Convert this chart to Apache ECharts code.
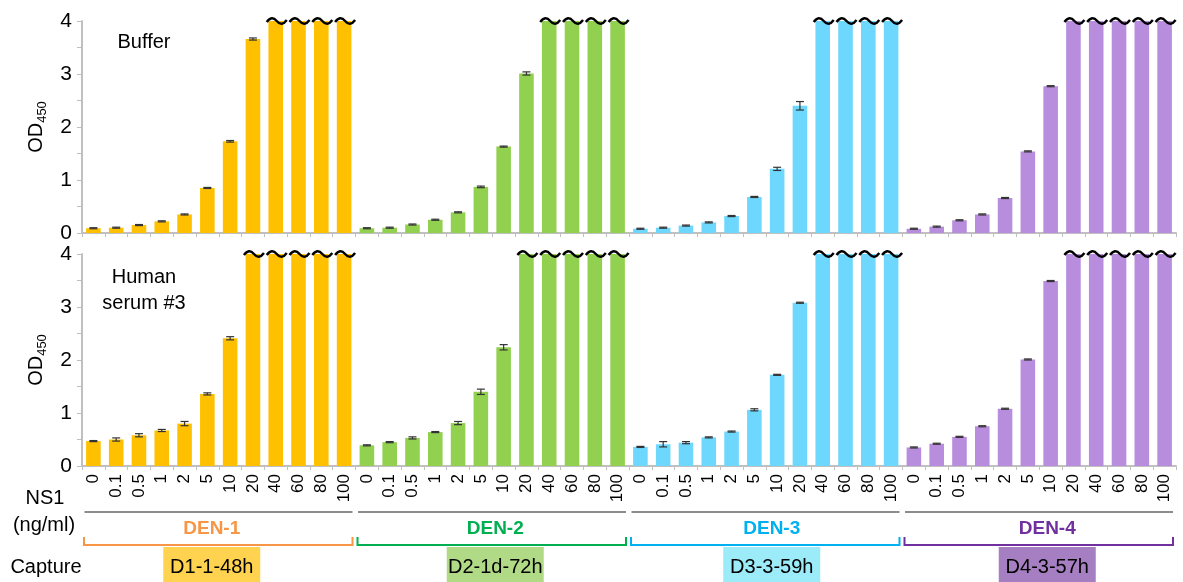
<!DOCTYPE html>
<html>
<head>
<meta charset="utf-8">
<script src="https://cdn.jsdelivr.net/npm/echarts@6/dist/echarts.min.js"></script>
<style>
  html, body { margin: 0; padding: 0; background: #fff; }
  #chart { width: 1183px; height: 582px; }
</style>
</head>
<body>
<div id="chart"></div>
<script>
// NS1 concentrations (ng/ml), repeated for each serotype block
const doses = ['0', '0.1', '0.5', '1', '2', '5', '10', '20', '40', '60', '80', '100'];
const serotypes = ['DEN-1', 'DEN-2', 'DEN-3', 'DEN-4'];
const captures = ['D1-1-48h', 'D2-1d-72h', 'D3-3-59h', 'D4-3-57h'];

// OD450 in buffer (4 = reading above the plate reader limit)
const bufferDen1 = [0.09, 0.10, 0.15, 0.22, 0.35, 0.85, 1.73, 3.66, 4, 4, 4, 4];
const bufferDen2 = [0.09, 0.10, 0.16, 0.25, 0.39, 0.87, 1.63, 3.01, 4, 4, 4, 4];
const bufferDen3 = [0.08, 0.10, 0.14, 0.20, 0.32, 0.68, 1.21, 2.40, 4, 4, 4, 4];
const bufferDen4 = [0.08, 0.12, 0.24, 0.35, 0.66, 1.54, 2.77, 4, 4, 4, 4, 4];

// OD450 in human serum #3
const serumDen1 = [0.47, 0.50, 0.58, 0.67, 0.80, 1.36, 2.41, 4, 4, 4, 4, 4];
const serumDen2 = [0.39, 0.45, 0.53, 0.64, 0.81, 1.40, 2.24, 4, 4, 4, 4, 4];
const serumDen3 = [0.36, 0.41, 0.44, 0.54, 0.65, 1.06, 1.72, 3.08, 4, 4, 4, 4];
const serumDen4 = [0.35, 0.42, 0.55, 0.75, 1.08, 2.01, 3.49, 4, 4, 4, 4, 4];

// standard deviations
const bufferErr1 = [0.01, 0.01, 0.01, 0.01, 0.01, 0.01, 0.015, 0.02, 0, 0, 0, 0];
const bufferErr2 = [0.01, 0.01, 0.01, 0.01, 0.01, 0.015, 0.01, 0.03, 0, 0, 0, 0];
const bufferErr3 = [0.01, 0.01, 0.01, 0.01, 0.01, 0.01, 0.03, 0.08, 0, 0, 0, 0];
const bufferErr4 = [0.01, 0.01, 0.01, 0.01, 0.01, 0.01, 0.01, 0, 0, 0, 0, 0];
const serumErr1 = [0.01, 0.03, 0.03, 0.02, 0.04, 0.02, 0.03, 0, 0, 0, 0, 0];
const serumErr2 = [0.01, 0.01, 0.02, 0.01, 0.03, 0.05, 0.05, 0, 0, 0, 0, 0];
const serumErr3 = [0.01, 0.05, 0.02, 0.01, 0.01, 0.02, 0.01, 0.01, 0, 0, 0, 0];
const serumErr4 = [0.01, 0.01, 0.01, 0.01, 0.01, 0.01, 0.01, 0, 0, 0, 0, 0];

const yTicks = [0, 1, 2, 3, 4];

const barColors = ['#ffc000', '#92d050', '#6dd7fd', '#b98ddd'];
const labelColors = ['#f79646', '#00b050', '#00b0f0', '#7030a0'];
const boxColors = ['#ffd34f', '#b1da86', '#9cebf9', '#a67fc3'];
const FONT = '"Liberation Sans", Arial, sans-serif';
const CAP = 4;

const panels = [
  { title: ['Buffer'], values: [bufferDen1, bufferDen2, bufferDen3, bufferDen4], errs: [bufferErr1, bufferErr2, bufferErr3, bufferErr4] },
  { title: ['Human', 'serum #3'], values: [serumDen1, serumDen2, serumDen3, serumDen4], errs: [serumErr1, serumErr2, serumErr3, serumErr4] }
];

const categories = [];
serotypes.forEach(() => doses.forEach(d => categories.push(d)));

const chart = echarts.init(document.getElementById('chart'), null, { renderer: 'canvas' });

const grids = [
  { left: 82, right: 7, top: 21, height: 212 },
  { left: 82, right: 7, top: 254, height: 212 }
];

const xAxes = grids.map((g, i) => ({
  type: 'category',
  gridIndex: i,
  data: categories,
  boundaryGap: true,
  axisLine: { lineStyle: { color: '#c0c0c0', width: 2 } },
  axisTick: { show: true, length: 4, interval: 0, lineStyle: { color: '#c0c0c0', width: 1 } },
  axisLabel: i === 1
    ? { show: true, interval: 0, rotate: 90, fontSize: 17, margin: 8, color: '#000', fontFamily: FONT }
    : { show: false }
}));

const yAxes = grids.map((g, i) => ({
  type: 'value',
  gridIndex: i,
  min: 0,
  max: 4,
  interval: 0.5,
  name: '{a|OD}{b|450}',
  nameLocation: 'middle',
  nameRotate: 90,
  nameGap: 36,
  nameTextStyle: {
    fontFamily: FONT,
    rich: {
      a: { fontSize: 20, color: '#000', fontFamily: FONT, lineHeight: 26, verticalAlign: 'bottom' },
      b: { fontSize: 13, color: '#000', fontFamily: FONT, lineHeight: 26, verticalAlign: 'bottom', padding: [0, 0, -3, 0] }
    }
  },
  axisLine: { show: true, lineStyle: { color: '#c0c0c0', width: 2 } },
  axisTick: { show: true, length: 5, lineStyle: { color: '#c0c0c0', width: 1 } },
  splitLine: { show: false },
  axisLabel: {
    fontSize: 21, margin: 10, color: '#000', fontFamily: FONT,
    formatter: v => (yTicks.indexOf(v) >= 0 ? String(v) : '')
  }
}));

const series = [];
panels.forEach((p, gi) => {
  const barData = [];
  const errData = [];
  const tildeData = [];
  p.values.forEach((vals, s) => {
    vals.forEach((v, k) => {
      const idx = s * doses.length + k;
      barData.push({ value: v, itemStyle: { color: barColors[s] } });
      if (v >= CAP) tildeData.push([idx, v]);
      else errData.push([idx, v, p.errs[s][k]]);
    });
  });
  series.push({
    type: 'bar',
    xAxisIndex: gi,
    yAxisIndex: gi,
    data: barData,
    barWidth: '64%',
    silent: true,
    animation: false
  });
  series.push({
    type: 'custom',
    xAxisIndex: gi,
    yAxisIndex: gi,
    data: errData,
    encode: { x: 0, y: 1 },
    silent: true,
    animation: false,
    z: 5,
    renderItem: (params, api) => {
      const x = api.value(0), v = api.value(1), e = api.value(2);
      const hi = api.coord([x, v + e]);
      const lo = api.coord([x, v - e]);
      const hw = 4;
      const style = { stroke: '#333', lineWidth: 1.2, fill: null };
      return {
        type: 'group',
        children: [
          { type: 'line', shape: { x1: hi[0], y1: hi[1], x2: lo[0], y2: lo[1] }, style },
          { type: 'line', shape: { x1: hi[0] - hw, y1: hi[1], x2: hi[0] + hw, y2: hi[1] }, style },
          { type: 'line', shape: { x1: lo[0] - hw, y1: lo[1], x2: lo[0] + hw, y2: lo[1] }, style }
        ]
      };
    }
  });
  // wavy break marks on bars that hit the reader limit
  series.push({
    type: 'custom',
    xAxisIndex: gi,
    yAxisIndex: gi,
    data: tildeData,
    encode: { x: 0, y: 1 },
    silent: true,
    animation: false,
    clip: false,
    z: 6,
    renderItem: (params, api) => {
      const c = api.coord([api.value(0), api.value(1)]);
      const x = c[0] + 1, y = c[1];
      const w = 10;
      const path = 'M' + (x - w) + ',' + (y + 1) +
        ' Q' + (x - w / 2) + ',' + (y - 6) + ' ' + x + ',' + y +
        ' Q' + (x + w / 2) + ',' + (y + 6) + ' ' + (x + w) + ',' + (y - 1);
      return {
        type: 'path',
        shape: { pathData: path },
        style: { stroke: '#000', lineWidth: 2.4, fill: null }
      };
    }
  });
});

chart.setOption({
  animation: false,
  backgroundColor: '#fff',
  grid: grids,
  xAxis: xAxes,
  yAxis: yAxes,
  series: series
});

// annotations below the plots, placed from the category axis positions
function groupSpan(g) {
  const a = chart.convertToPixel({ xAxisIndex: 1 }, g * doses.length);
  const b = chart.convertToPixel({ xAxisIndex: 1 }, g * doses.length + doses.length - 1);
  const half = (b - a) / (2 * (doses.length - 1));
  return [a - half, b + half];
}

const centerShift = [-7, 3, 6, 8];
const graphic = [];
const txt = (text, x, y, extra) => ({
  type: 'text', x: x, y: y, silent: true,
  style: Object.assign({ text: text, fontSize: 20, fontFamily: FONT, fill: '#000', align: 'center', verticalAlign: 'middle' }, extra || {})
});

graphic.push(txt('Buffer', 144, 42));
graphic.push(txt('Human', 144, 277));
graphic.push(txt('serum #3', 144, 303));
graphic.push(txt('NS1', 45, 498));
graphic.push(txt('(ng/ml)', 44, 525));
graphic.push(txt('Capture', 46, 567));

serotypes.forEach((name, g) => {
  const [l, r] = groupSpan(g);
  const mid = (l + r) / 2 + centerShift[g];
  graphic.push({
    type: 'line', silent: true,
    shape: { x1: l + 2.5, y1: 512, x2: r - 3, y2: 512 },
    style: { stroke: '#8c8c8c', lineWidth: 2 }
  });
  graphic.push(txt(name, mid, 529, { fill: labelColors[g], fontWeight: 'bold', fontSize: 19 }));
  graphic.push({
    type: 'polyline', silent: true,
    shape: { points: [[l + 2, 537], [l + 2, 545], [r - 3, 545], [r - 3, 537]] },
    style: { stroke: labelColors[g], lineWidth: 2, fill: null }
  });
  graphic.push({
    type: 'rect', silent: true,
    shape: { x: mid - 48.5, y: 547, width: 97, height: 36 },
    style: { fill: boxColors[g] }
  });
  graphic.push(txt(captures[g], mid, 567));
});

chart.setOption({ graphic: graphic });
</script>
</body>
</html>
